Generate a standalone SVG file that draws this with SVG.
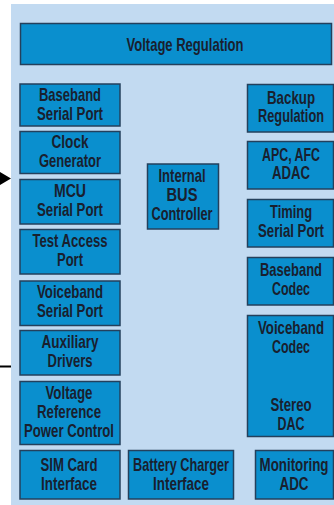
<svg xmlns="http://www.w3.org/2000/svg" width="334" height="505" viewBox="0 0 334 505">
<style>
.b{fill:#0a8fce;stroke:#24405c;stroke-width:1.5}
.t{font-family:"Liberation Sans",Arial,sans-serif;font-weight:bold;font-size:18.5px;fill:#19202e;text-anchor:middle}
</style>
<rect x="11" y="4" width="323" height="501" fill="#c2daf1"/>
<g id="connectors">
<polygon points="0,172 11,178.5 0,185" fill="#000"/>
<line x1="0" y1="366.5" x2="11" y2="366.5" stroke="#000" stroke-width="2"/>
</g>
<g id="voltage-regulation"><rect class="b" x="20.5" y="23.5" width="311" height="41"/><text class="t" x="185" y="50.5" textLength="117" lengthAdjust="spacingAndGlyphs">Voltage Regulation</text></g>
<g id="baseband-serial-port"><rect class="b" x="20" y="84" width="100" height="42"/><text class="t" x="70" y="101" textLength="62" lengthAdjust="spacingAndGlyphs">Baseband</text><text class="t" x="70" y="120" textLength="66" lengthAdjust="spacingAndGlyphs">Serial Port</text></g>
<g id="clock-generator"><rect class="b" x="20" y="131.5" width="100" height="42"/><text class="t" x="70" y="148" textLength="37" lengthAdjust="spacingAndGlyphs">Clock</text><text class="t" x="70" y="167" textLength="62" lengthAdjust="spacingAndGlyphs">Generator</text></g>
<g id="mcu-serial-port"><rect class="b" x="20" y="179.5" width="100" height="44.5"/><text class="t" x="70" y="197" textLength="32" lengthAdjust="spacingAndGlyphs">MCU</text><text class="t" x="70" y="216" textLength="66" lengthAdjust="spacingAndGlyphs">Serial Port</text></g>
<g id="test-access-port"><rect class="b" x="20" y="229.5" width="100" height="44.5"/><text class="t" x="70" y="247" textLength="75" lengthAdjust="spacingAndGlyphs">Test Access</text><text class="t" x="70" y="266" textLength="26" lengthAdjust="spacingAndGlyphs">Port</text></g>
<g id="voiceband-serial-port"><rect class="b" x="20" y="281" width="100" height="44.5"/><text class="t" x="70" y="298" textLength="66" lengthAdjust="spacingAndGlyphs">Voiceband</text><text class="t" x="70" y="317" textLength="66" lengthAdjust="spacingAndGlyphs">Serial Port</text></g>
<g id="auxiliary-drivers"><rect class="b" x="20" y="330.5" width="100" height="44.5"/><text class="t" x="70" y="348" textLength="57" lengthAdjust="spacingAndGlyphs">Auxiliary</text><text class="t" x="70" y="367" textLength="45" lengthAdjust="spacingAndGlyphs">Drivers</text></g>
<g id="voltage-reference-power-control"><rect class="b" x="20" y="381.5" width="100" height="63"/><text class="t" x="69" y="399" textLength="47" lengthAdjust="spacingAndGlyphs">Voltage</text><text class="t" x="69" y="418" textLength="64" lengthAdjust="spacingAndGlyphs">Reference</text><text class="t" x="69" y="437" textLength="90" lengthAdjust="spacingAndGlyphs">Power Control</text></g>
<g id="sim-card-interface"><rect class="b" x="20" y="450.5" width="100" height="48.5"/><text class="t" x="69" y="471" textLength="57" lengthAdjust="spacingAndGlyphs">SIM Card</text><text class="t" x="69" y="490" textLength="56" lengthAdjust="spacingAndGlyphs">Interface</text></g>
<g id="battery-charger-interface"><rect class="b" x="128.5" y="450.5" width="105" height="48.5"/><text class="t" x="181" y="471" textLength="96" lengthAdjust="spacingAndGlyphs">Battery Charger</text><text class="t" x="181" y="490" textLength="56" lengthAdjust="spacingAndGlyphs">Interface</text></g>
<g id="monitoring-adc"><rect class="b" x="255.5" y="450.5" width="78" height="48.5"/><text class="t" x="294" y="471" textLength="69" lengthAdjust="spacingAndGlyphs">Monitoring</text><text class="t" x="294" y="490" textLength="29" lengthAdjust="spacingAndGlyphs">ADC</text></g>
<g id="internal-bus-controller"><rect class="b" x="147.5" y="164" width="71" height="65"/><text class="t" x="182" y="182" textLength="47" lengthAdjust="spacingAndGlyphs">Internal</text><text class="t" x="182" y="201" textLength="31" lengthAdjust="spacingAndGlyphs">BUS</text><text class="t" x="182" y="220" textLength="61" lengthAdjust="spacingAndGlyphs">Controller</text></g>
<g id="backup-regulation"><rect class="b" x="247.5" y="84.5" width="86" height="47.5"/><text class="t" x="291" y="104" textLength="48" lengthAdjust="spacingAndGlyphs">Backup</text><text class="t" x="291" y="122" textLength="66" lengthAdjust="spacingAndGlyphs">Regulation</text></g>
<g id="apc-afc-adac"><rect class="b" x="247.5" y="141.5" width="86" height="47.5"/><text class="t" x="291" y="161" textLength="58" lengthAdjust="spacingAndGlyphs">APC, AFC</text><text class="t" x="291" y="179" textLength="38" lengthAdjust="spacingAndGlyphs">ADAC</text></g>
<g id="timing-serial-port"><rect class="b" x="247.5" y="199.5" width="86" height="47.5"/><text class="t" x="291" y="218" textLength="42" lengthAdjust="spacingAndGlyphs">Timing</text><text class="t" x="291" y="237" textLength="66" lengthAdjust="spacingAndGlyphs">Serial Port</text></g>
<g id="baseband-codec"><rect class="b" x="247.5" y="257.5" width="86" height="47.5"/><text class="t" x="291" y="276" textLength="62" lengthAdjust="spacingAndGlyphs">Baseband</text><text class="t" x="291" y="295" textLength="38" lengthAdjust="spacingAndGlyphs">Codec</text></g>
<g id="voiceband-codec-stereo-dac"><rect class="b" x="247.5" y="315.5" width="86" height="121"/><text class="t" x="291" y="334" textLength="66" lengthAdjust="spacingAndGlyphs">Voiceband</text><text class="t" x="291" y="353" textLength="38" lengthAdjust="spacingAndGlyphs">Codec</text><text class="t" x="291" y="411" textLength="41" lengthAdjust="spacingAndGlyphs">Stereo</text><text class="t" x="291" y="430" textLength="27" lengthAdjust="spacingAndGlyphs">DAC</text></g>
</svg>
